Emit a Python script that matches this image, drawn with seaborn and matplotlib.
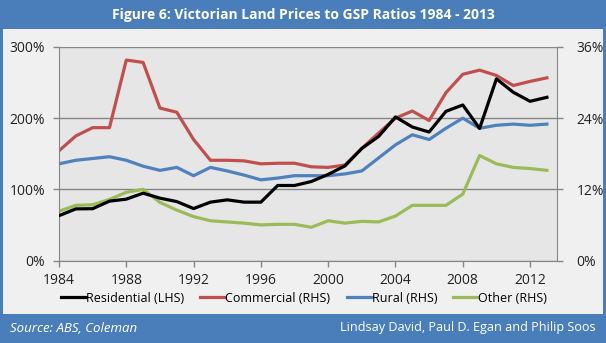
import numpy as np
import pandas as pd
import matplotlib
matplotlib.use("Agg")
import matplotlib.pyplot as plt
from matplotlib.patches import Rectangle
from matplotlib.lines import Line2D
import seaborn as sns

years = list(range(1984, 2014))
# Residential, left axis (% of GSP)
residential = [63, 72.5, 72.8, 83.4, 86.2, 94.6, 87.6, 82.8, 73, 82, 85.2, 82, 82, 105.4, 105.4, 111,
               121, 133, 157.5, 174.4, 201.7, 187.6, 180.5, 209.6, 218.5, 185.6, 255.2, 236.4, 223.7, 229.3]
# Right-axis series (% of GSP)
commercial = [18.5, 21.0, 22.4, 22.4, 33.8, 33.4, 25.7, 25.0, 20.4, 16.9, 16.9, 16.8, 16.3, 16.4, 16.4, 15.8,
              15.7, 16.1, 18.9, 21.5, 24.0, 25.2, 23.6, 28.3, 31.4, 32.1, 31.2, 29.5, 30.2, 30.8]
rural = [16.3, 16.9, 17.2, 17.5, 16.9, 15.9, 15.2, 15.7, 14.3, 15.7, 15.1, 14.4, 13.6, 13.9, 14.3, 14.3,
         14.3, 14.6, 15.1, 17.3, 19.5, 21.2, 20.4, 22.3, 24.0, 22.3, 22.8, 23.0, 22.8, 23.0]
other = [8.3, 9.3, 9.4, 10.3, 11.5, 12.0, 9.8, 8.5, 7.4, 6.7, 6.5, 6.3, 6.0, 6.1, 6.1, 5.6,
         6.7, 6.3, 6.6, 6.5, 7.5, 9.3, 9.3, 9.3, 11.2, 17.7, 16.3, 15.7, 15.5, 15.2]

left_ticks = [0, 100, 200, 300]
right_ticks = [0, 12, 24, 36]
x_ticks = list(range(1984, 2013, 4))

c_res, c_com, c_rur, c_oth = "#000000", "#C0504D", "#4F81BD", "#9BBB59"
blue = "#4A7EBB"

W, H = 606, 343
fig = plt.figure(figsize=(W / 100, H / 100), dpi=100)
fig.patch.set_facecolor(blue)
fig.patches.append(Rectangle((3 / W, 1 - 314 / H), (W - 6) / W, (314 - 29) / H,
                             transform=fig.transFigure, facecolor="#F0F0F0", edgecolor="none", zorder=-5))

ax = fig.add_axes([59 / W, 1 - 260.5 / H, (557 - 59) / W, (260.5 - 47) / H])
ax2 = ax.twinx()
ax.set_zorder(2)
ax2.set_zorder(1)
ax.patch.set_visible(False)
ax2.patch.set_visible(True)
ax2.patch.set_facecolor("#E6E6E6")

for vals, col in [(commercial, c_com), (rural, c_rur), (other, c_oth)]:
    d = pd.DataFrame({"year": years, "val": vals})
    sns.lineplot(data=d, x="year", y="val", ax=ax2, color=col, linewidth=2.3, zorder=3)
df_l = pd.DataFrame({"year": years, "val": residential})
sns.lineplot(data=df_l, x="year", y="val", ax=ax, color=c_res, linewidth=2.3, zorder=5)

ax.set_xlim(1984, 2013.6)
ax.set_ylim(0, 300)
ax2.set_ylim(0, 36)
ax.set_xlabel("")
ax.set_ylabel("")
ax2.set_ylabel("")
ax.set_xticks(x_ticks)
ax.set_xticklabels([str(y) for y in x_ticks])
ax.set_yticks(left_ticks)
ax.set_yticklabels([f"{v}%" for v in left_ticks])
ax2.set_yticks(right_ticks)
ax2.set_yticklabels([f"{v}%" for v in right_ticks])

for a in (ax, ax2):
    for s in a.spines.values():
        s.set_visible(False)
    a.tick_params(colors="#868686", labelcolor="#222222", labelsize=10, length=4, width=1)
ax.spines["left"].set_visible(True)
ax.spines["left"].set_color("#868686")
ax.spines["bottom"].set_visible(True)
ax.spines["bottom"].set_color("#868686")
ax2.spines["right"].set_visible(True)
ax2.spines["right"].set_color("#868686")
ax2.yaxis.grid(True, color="#868686", linewidth=1, zorder=0)
ax2.set_axisbelow(True)
ax.tick_params(axis="y", pad=6)
ax2.tick_params(axis="y", pad=10)
ax.tick_params(axis="x", pad=5)

for lbl in ax.get_xticklabels() + ax.get_yticklabels() + ax2.get_yticklabels():
    lbl.set_family("Open Sans")

handles = [Line2D([], [], color=c, linewidth=2.3) for c in (c_res, c_com, c_rur, c_oth)]
labels = ["Residential (LHS)", "Commercial (RHS)", "Rural (RHS)", "Other (RHS)"]
fig.legend(handles, labels, loc="center", bbox_to_anchor=(304 / W, 1 - 298 / H), ncol=4,
           frameon=False, handlelength=2.0, handletextpad=0.0, columnspacing=1.3,
           prop={"family": "Open Sans", "size": 9})

fig.text(303 / W, 1 - 15 / H, "Figure 6: Victorian Land Prices to GSP Ratios 1984 - 2013",
         ha="center", va="center", color="white", fontsize=10, fontweight="bold", family="Open Sans")
fig.text(10 / W, 1 - 328 / H, "Source: ABS, Coleman", ha="left", va="center", color="white",
         fontsize=9.5, style="italic", family="Open Sans")
fig.text(596 / W, 1 - 328 / H, "Lindsay David, Paul D. Egan and Philip Soos", ha="right", va="center",
         color="white", fontsize=9.1, family="Open Sans")

fig.savefig("out.png", dpi=100, facecolor=fig.get_facecolor())
